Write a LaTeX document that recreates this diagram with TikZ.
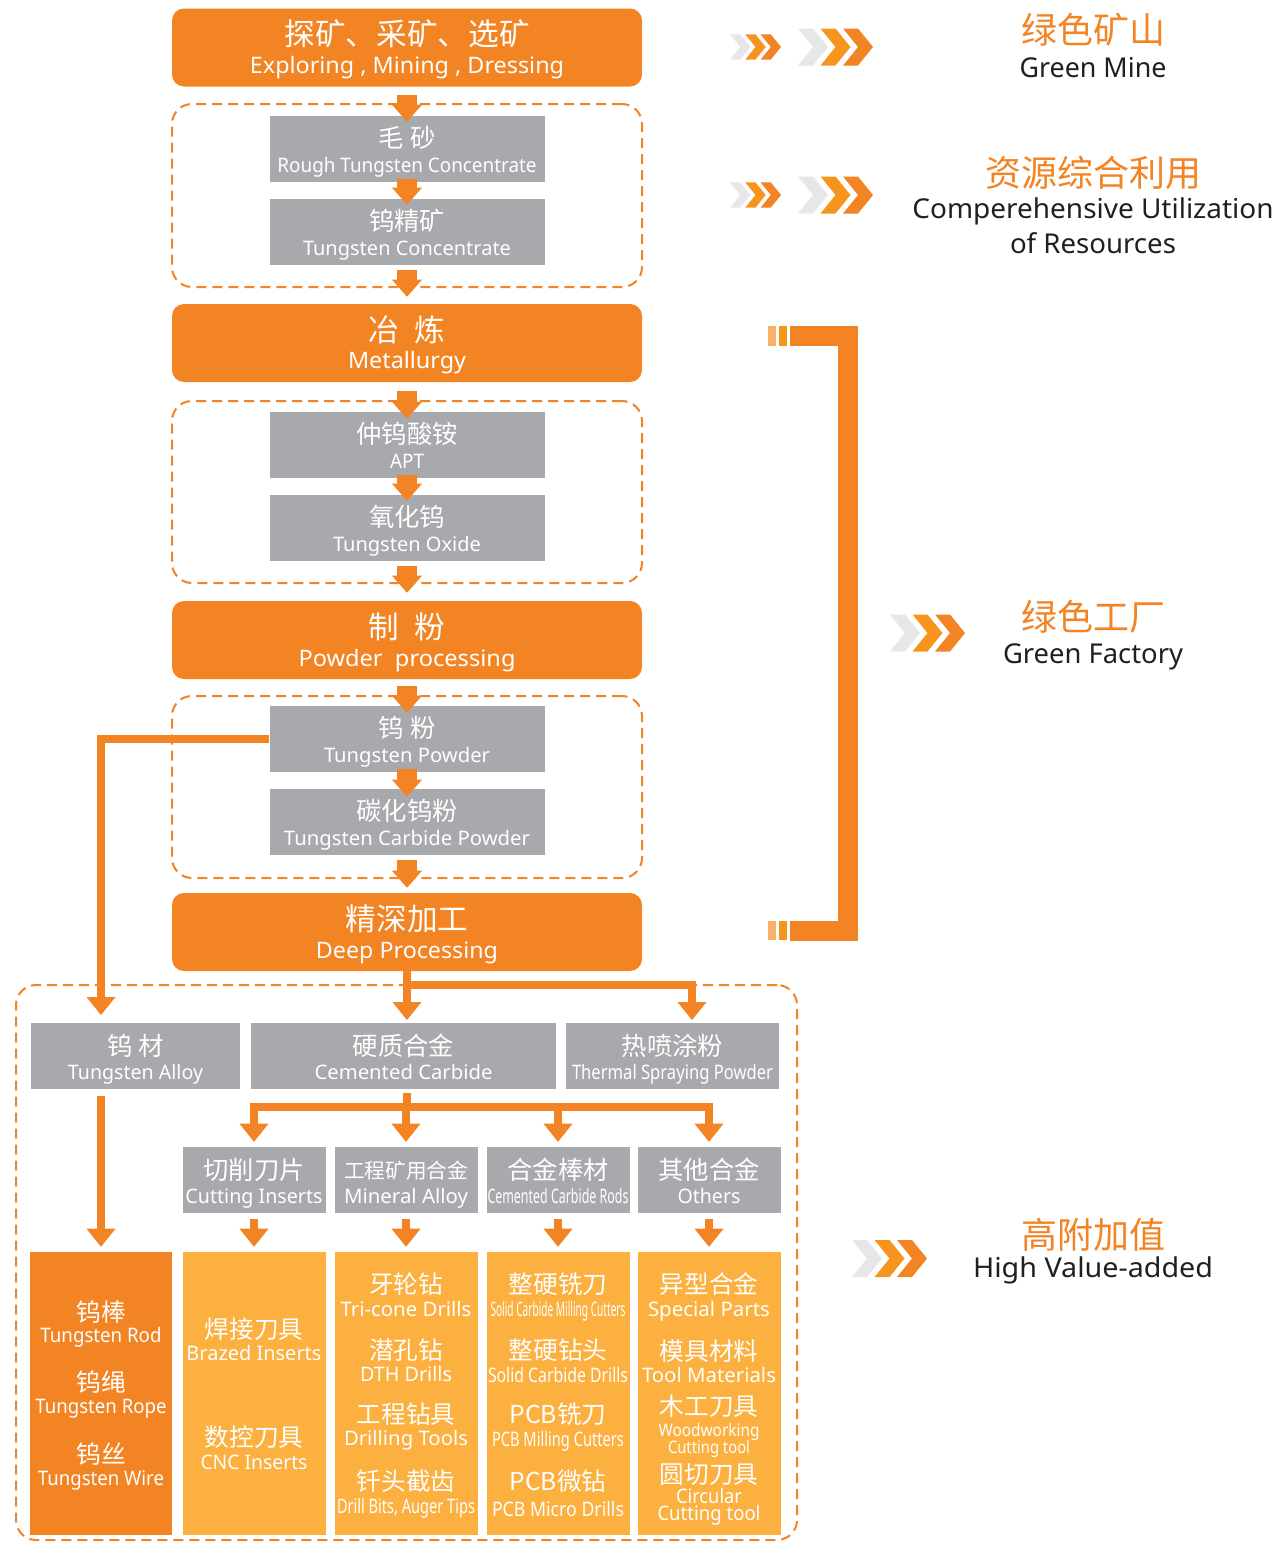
\documentclass[tikz,border=0pt]{standalone}
\usepackage{fontspec}
\usepackage{graphicx}
\setmainfont{Noto Sans}
\newfontfamily\cjk{Noto Sans CJK SC}
\usetikzlibrary{arrows.meta}
\definecolor{org}{HTML}{F28424}
\definecolor{orgb}{HTML}{F7941D}
\definecolor{lorg}{HTML}{FBB040}
\definecolor{sqlight}{HTML}{F9B16A}
\definecolor{gry}{HTML}{A7A9AC}
\definecolor{chg}{HTML}{E6E7E8}
\definecolor{ink}{HTML}{231F20}
\newcommand\rs[2]{\resizebox{\dimexpr#1pt*3/4\relax}{\height}{#2}}
\newcommand\fsz[1]{\fontsize{#1}{#1}\selectfont}
\tikzset{
  obox/.style={fill=org, rounded corners=9pt, minimum width=352.5pt, minimum height=58.5pt, inner sep=0pt},
  gbox/.style={fill=gry, minimum width=206.25pt, minimum height=49.5pt, inner sep=0pt},
  dbox/.style={draw=org, line width=1.5pt, dash pattern=on 7.5pt off 4.5pt, rounded corners=15pt, minimum width=352.5pt, inner sep=0pt},
  rbox/.style={fill=gry, minimum height=49.5pt, inner sep=0pt},
  colbox/.style={fill=lorg, minimum height=212.25pt, minimum width=107.25pt, inner sep=0pt},
  lab/.style={anchor=base, inner sep=0pt, text=white},
  cnA/.style={lab, font=\cjk\fsz{23pt}},
  enA/.style={lab, font=\fsz{17pt}},
  cnB/.style={lab, font=\cjk\fsz{19pt}},
  enB/.style={lab, font=\fsz{15pt}},
  cnC/.style={lab, font=\cjk\fsz{18.5pt}},
  enC/.style={lab, font=\fsz{15pt}},
  enS/.style={lab, font=\fsz{13pt}},
  rcn/.style={anchor=base, inner sep=0pt, text=org, font=\cjk\fsz{27pt}},
  ren/.style={anchor=base, inner sep=0pt, text=ink, font=\fsz{20.5pt}},
  barrow/.style={draw=org, line width=15pt, -{Triangle[width=22.5pt,length=12.75pt,line width=0pt]}},
  tarrow/.style={draw=org, line width=6pt, -{Triangle[width=21.75pt,length=13.5pt,line width=0pt]}},
  tline/.style={draw=org, line width=6pt},
  chevrons/.pic={
    \fill[chg] (0,-18.5) -- ++(15,0) -- ++(15,18.5) -- ++(-15,18.5) -- ++(-15,0) -- ++(15,-18.5) -- cycle;
    \fill[orgb] (22.5,-18.5) -- ++(15,0) -- ++(15,18.5) -- ++(-15,18.5) -- ++(-15,0) -- ++(15,-18.5) -- cycle;
    \fill[org] (45,-18.5) -- ++(15,0) -- ++(15,18.5) -- ++(-15,18.5) -- ++(-15,0) -- ++(15,-18.5) -- cycle;
  }
}
\begin{document}
\begin{tikzpicture}[x=0.75pt,y=-0.75pt]
\useasboundingbox (0,0) rectangle (1278,1542);
\fill[white] (0,0) rectangle (1278,1542);

% ---------- upper chain ----------
\node[obox] (A) at (407,47.5) {};
\node[dbox, minimum height=137.25pt] (D1) at (407,195.5) {};
\node[gbox] (G1) at (407,149) {};
\node[gbox] (G2) at (407,232) {};
\node[obox] (B) at (407,343) {};
\node[dbox, minimum height=136.5pt] (D2) at (407,492) {};
\node[gbox] (G3) at (407,445) {};
\node[gbox] (G4) at (407,528) {};
\node[obox] (C) at (407,640) {};
\node[dbox, minimum height=136.5pt] (D3) at (407,787) {};
\node[gbox] (G5) at (407,739) {};
\node[gbox] (G6) at (407,822) {};
\node[obox] (D) at (407,932) {};

\node[cnA] (tA1) at (407,45) {探矿、采矿、选矿};
\node[enA] (tA2) at (407,73) {\rs{314}{Exploring , Mining , Dressing}};
\node[cnB] (tG1a) at (407,147) {毛\hspace{0.25em}砂};
\node[enB] (tG1b) at (407,172) {\rs{259}{Rough Tungsten Concentrate}};
\node[cnB] (tG2a) at (407,230) {钨精矿};
\node[enB] (tG2b) at (407,255) {\rs{208}{Tungsten Concentrate}};
\node[cnA] (tB1) at (407,341) {冶\hspace{0.5em}炼};
\node[enA] (tB2) at (407,368) {\rs{118}{Metallurgy}};
\node[cnB] (tG3a) at (407,443) {仲钨酸铵};
\node[enB] (tG3b) at (407,468) {\rs{34}{APT}};
\node[cnB] (tG4a) at (407,526) {氧化钨};
\node[enB] (tG4b) at (407,551) {\rs{148}{Tungsten Oxide}};
\node[cnA] (tC1) at (407,638) {制\hspace{0.5em}粉};
\node[enA] (tC2) at (407,666) {\rs{217}{Powder\ \ processing}};
\node[cnB] (tG5a) at (407,737) {钨\hspace{0.25em}粉};
\node[enB] (tG5b) at (407,762) {\rs{166}{Tungsten Powder}};
\node[cnB] (tG6a) at (407,820) {碳化钨粉};
\node[enB] (tG6b) at (407,845) {\rs{246}{Tungsten Carbide Powder}};
\node[cnA] (tD1) at (407,930) {精深加工};
\node[enA] (tD2) at (407,958) {\rs{182}{Deep Processing}};

\draw[barrow] ([yshift=-6pt]A.south) -- ([yshift=-4.5pt]G1.north);
\draw[barrow] ([yshift=2.25pt]G1.south) -- ([yshift=-4.5pt]G2.north);
\draw[barrow] ([yshift=-3.75pt]G2.south) -- ([yshift=5.25pt]B.north);
\draw[barrow] ([yshift=-6.75pt]B.south) -- ([yshift=-5.25pt]G3.north);
\draw[barrow] ([yshift=2.25pt]G3.south) -- ([yshift=-4.5pt]G4.north);
\draw[barrow] ([yshift=-3.75pt]G4.south) -- ([yshift=6pt]C.north);
\draw[barrow] ([yshift=-5.25pt]C.south) -- ([yshift=-5.25pt]G5.north);
\draw[barrow] ([yshift=2.25pt]G5.south) -- ([yshift=-6pt]G6.north);
\draw[barrow] ([yshift=-3.75pt]G6.south) -- ([yshift=3.75pt]D.north);

% ---------- lower part ----------
\node[draw=org, line width=1.5pt, dash pattern=on 7.5pt off 4.5pt, rounded corners=15pt, minimum width=585.75pt, minimum height=416.25pt, inner sep=0pt] (BD) at (406.5,1262.5) {};

\node[rbox, minimum width=156.75pt] (R1a) at (135.5,1056) {};
\node[rbox, minimum width=228.75pt] (R1b) at (403.5,1056) {};
\node[rbox, minimum width=159.75pt] (R1c) at (672.5,1056) {};
\node[cnB] (tR1a) at (135.5,1055) {钨\hspace{0.25em}材};
\node[enB] (tR1b) at (135.5,1079) {\rs{135}{Tungsten Alloy}};
\node[cnB] (tR2a) at (403.5,1055) {硬质合金};
\node[enB] (tR2b) at (403.5,1079) {\rs{178}{Cemented Carbide}};
\node[cnB] (tR3a) at (672.5,1055) {热喷涂粉};
\node[enB] (tR3b) at (672.5,1079) {\rs{201}{Thermal Spraying Powder}};

\node[rbox, minimum width=107.25pt] (r2a) at (254,1180) {};
\node[rbox, minimum width=107.25pt] (r2b) at (406,1180) {};
\node[rbox, minimum width=107.25pt] (r2c) at (558,1180) {};
\node[rbox, minimum width=107.25pt] (r2d) at (709,1180) {};
\node[cnB] (tr2a1) at (254,1179) {切削刀片};
\node[enB] (tr2a2) at (254,1203) {\rs{137}{Cutting Inserts}};
\node[lab, font=\cjk\fsz{15.5pt}] (tr2b1) at (406,1178) {工程矿用合金};
\node[enB] (tr2b2) at (406,1203) {\rs{124}{Mineral Alloy}};
\node[cnB] (tr2c1) at (558,1179) {合金棒材};
\node[enB] (tr2c2) at (558,1203) {\rs{141}{Cemented Carbide Rods}};
\node[cnB] (tr2d1) at (709,1179) {其他合金};
\node[enB] (tr2d2) at (709,1203) {\rs{63}{Others}};

\node[colbox, fill=org, minimum width=106.5pt] (c1) at (101,1393.5) {};
\node[colbox] (c2) at (254,1393.5) {};
\node[colbox] (c3) at (406,1393.5) {};
\node[colbox] (c4) at (558,1393.5) {};
\node[colbox] (c5) at (709,1393.5) {};

\node[cnC] (k11) at (101,1321) {钨棒};
\node[enC] (k12) at (101,1342) {\rs{121}{Tungsten Rod}};
\node[cnC] (k13) at (101,1391) {钨绳};
\node[enC] (k14) at (101,1413) {\rs{131}{Tungsten Rope}};
\node[cnC] (k15) at (101,1463) {钨丝};
\node[enC] (k16) at (101,1485) {\rs{126}{Tungsten Wire}};

\node[cnC] (k21) at (254,1338) {焊接刀具};
\node[enC] (k22) at (254,1360) {\rs{135}{Brazed Inserts}};
\node[cnC] (k23) at (254,1446) {数控刀具};
\node[enC] (k24) at (254,1469) {\rs{107}{CNC Inserts}};

\node[cnC] (k31) at (406,1293) {牙轮钻};
\node[enC] (k32) at (406,1316) {\rs{131}{Tri-cone Drills}};
\node[cnC] (k33) at (406,1359) {潜孔钻};
\node[enC] (k34) at (406,1381) {\rs{92}{DTH Drills}};
\node[cnC] (k35) at (406,1423) {工程钻具};
\node[enC] (k36) at (406,1445) {\rs{124}{Drilling Tools}};
\node[cnC] (k37) at (406,1490) {钎头截齿};
\node[enC] (k38) at (406,1513) {\rs{138}{Drill Bits, Auger Tips}};

\node[cnC] (k41) at (558,1293) {整硬铣刀};
\node[enC] (k42) at (558,1316) {\rs{135}{Solid Carbide Milling Cutters}};
\node[cnC] (k43) at (558,1359) {整硬钻头};
\node[enC] (k44) at (558,1382) {\rs{140}{Solid Carbide Drills}};
\node[cnC] (k45) at (558,1423) {PCB铣刀};
\node[enC] (k46) at (558,1446) {\rs{132}{PCB Milling Cutters}};
\node[cnC] (k47) at (558,1490) {PCB微钻};
\node[enC] (k48) at (558,1516) {\rs{132}{PCB Micro Drills}};

\node[cnC] (k51) at (709,1293) {异型合金};
\node[enC] (k52) at (709,1316) {\rs{122}{Special Parts}};
\node[cnC] (k53) at (709,1360) {模具材料};
\node[enC] (k54) at (709,1382) {\rs{134}{Tool Materials}};
\node[cnC] (k55) at (709,1415) {木工刀具};
\node[enS] (k56) at (709,1436) {\rs{101}{Woodworking}};
\node[enS] (k57) at (709,1453) {\rs{82}{Cutting tool}};
\node[cnC] (k58) at (709,1483) {圆切刀具};
\node[enC] (k59) at (709,1503) {\rs{66}{Circular}};
\node[enC] (k5a) at (709,1520) {\rs{103}{Cutting tool}};

% connectors lower part
\coordinate (ta) at (101,1015);
\coordinate (tb) at (407,1020);
\coordinate (br1) at (407,985);
\coordinate (tc) at (692,1020);
\coordinate (s1) at (101,1096);
\coordinate (v0) at (407,1093);
\coordinate (bar) at (407,1107);
\coordinate (bartop) at (407,1103);

\draw[tarrow] (G5.west) -| (ta);
\draw[tarrow] (D.south) -- (tb);
\draw[tarrow] (br1) -| (tc);
\draw[tarrow] (s1) -- ([yshift=3.75pt]c1.north);
\draw[tline] (v0) -- (bar);
\draw[tline] (r2a.north |- bar) -- (r2d.north |- bar);
\draw[tarrow] (r2a.north |- bartop) -- ([yshift=3.75pt]r2a.north);
\draw[tarrow] (r2b.north |- bartop) -- ([yshift=3.75pt]r2b.north);
\draw[tarrow] (r2c.north |- bartop) -- ([yshift=3.75pt]r2c.north);
\draw[tarrow] (r2d.north |- bartop) -- ([yshift=3.75pt]r2d.north);
\draw[tarrow] ([yshift=-4.5pt]r2a.south) -- ([yshift=3.75pt]c2.north);
\draw[tarrow] ([yshift=-4.5pt]r2b.south) -- ([yshift=3.75pt]c3.north);
\draw[tarrow] ([yshift=-4.5pt]r2c.south) -- ([yshift=3.75pt]c4.north);
\draw[tarrow] ([yshift=-4.5pt]r2d.south) -- ([yshift=3.75pt]c5.north);

% ---------- right side ----------
\draw[org, line width=15pt] (790,336) -- (847.5,336) -- (847.5,930.5) -- (790,930.5);
\fill[sqlight] (768,326) rectangle (776,346);
\fill[orgb] (779,326) rectangle (787,346);
\fill[sqlight] (768,921) rectangle (776,940);
\fill[orgb] (779,921) rectangle (787,940);

\pic[scale=0.68] at (730,47) {chevrons};
\pic at (798,47) {chevrons};
\pic[scale=0.68] at (730,195) {chevrons};
\pic at (798,195) {chevrons};
\pic at (890,633) {chevrons};
\pic at (852,1258.5) {chevrons};

\node[rcn] (gm1) at (1093,43) {绿色矿山};
\node[ren] (gm2) at (1093,77) {\rs{147}{Green Mine}};
\node[rcn] (cu1) at (1093,186) {资源综合利用};
\node[ren] (cu2) at (1093,218) {\rs{361}{Comperehensive Utilization}};
\node[ren] (cu3) at (1093,253) {\rs{166}{of Resources}};
\node[rcn] (gf1) at (1093,630) {绿色工厂};
\node[ren] (gf2) at (1093,663) {\rs{180}{Green Factory}};
\node[rcn] (hv1) at (1093,1248) {高附加值};
\node[ren] (hv2) at (1093,1277) {\rs{240}{High Value-added}};
\end{tikzpicture}
\end{document}
